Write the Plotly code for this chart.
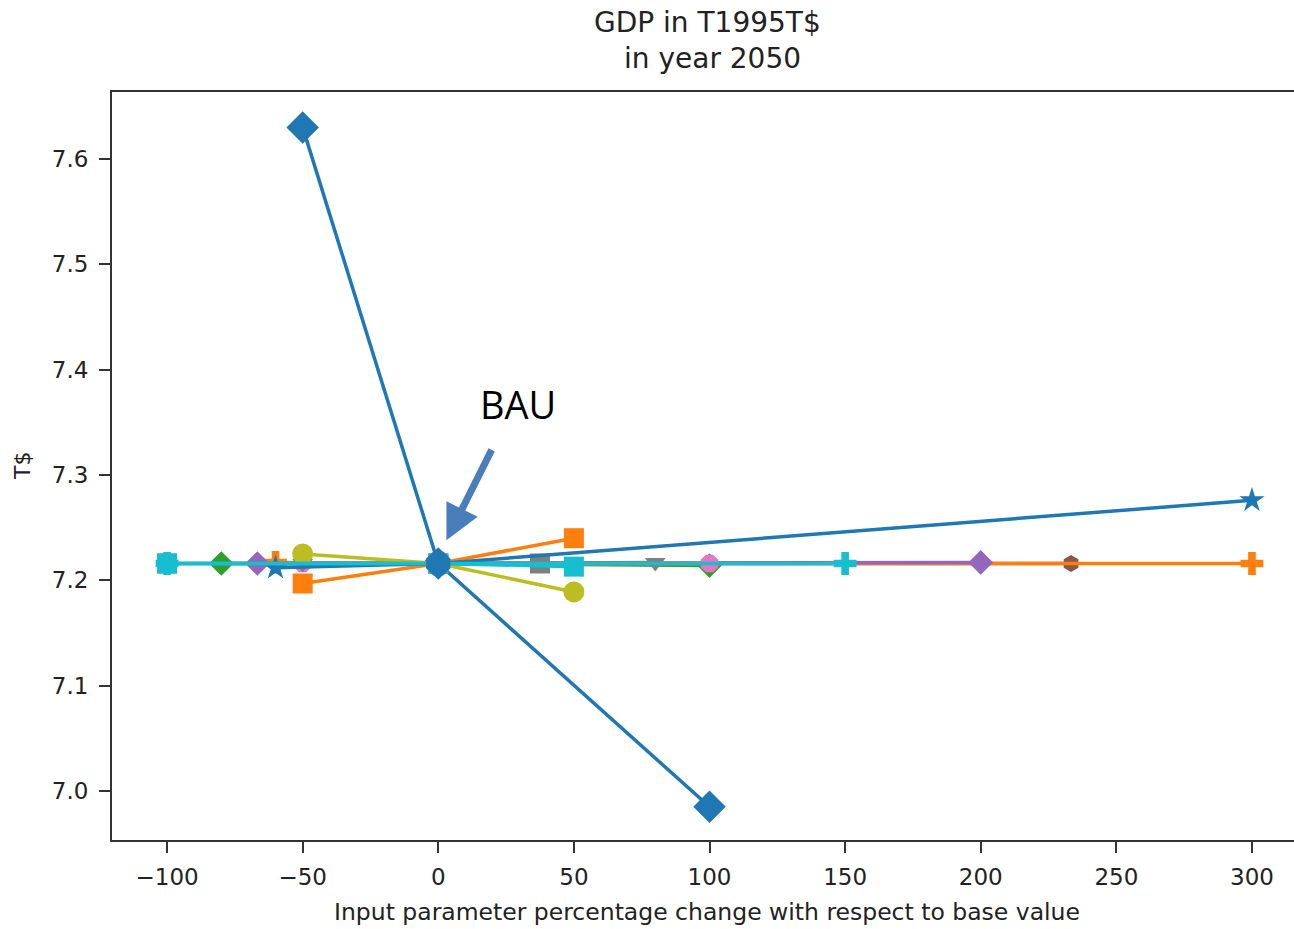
import plotly.graph_objects as go

# Sensitivity of GDP (T$) in 2050 to percentage changes of each input parameter
BAU_X = [0]
BAU_Y = [7.216]

s01_x = [-50, 0, 100]
s01_y = [7.630, 7.216, 6.985]

s02_x = [-50, 0, 50]
s02_y = [7.197, 7.216, 7.240]

s03_x = [-80, 0, 100]
s03_y = [7.216, 7.216, 7.214]

s04_x = [-50, 0, 233.3]
s04_y = [7.216, 7.216, 7.216]

s05_x = [-60, 0, 300]
s05_y = [7.217, 7.216, 7.216]

s06_x = [-66.7, 0, 200]
s06_y = [7.216, 7.216, 7.217]

s07_x = [-50, 0, 100]
s07_y = [7.216, 7.216, 7.216]

s08_x = [-100, 0, 37.5]
s08_y = [7.216, 7.216, 7.216]

s09_x = [-50, 0, 80]
s09_y = [7.216, 7.216, 7.217]

s10_x = [-50, 0, 50]
s10_y = [7.225, 7.216, 7.189]

s11_x = [-60, 0, 300]
s11_y = [7.212, 7.216, 7.276]

s12_x = [-100, 0, 50]
s12_y = [7.216, 7.216, 7.213]

s13_x = [-100, 0, 150]
s13_y = [7.216, 7.216, 7.216]

x_ticks = [-100, -50, 0, 50, 100, 150, 200, 250, 300]
y_ticks = [7.0, 7.1, 7.2, 7.3, 7.4, 7.5, 7.6]

C = ["#1f77b4", "#ff7f0e", "#2ca02c", "#d62728", "#9467bd",
     "#8c564b", "#e377c2", "#7f7f7f", "#bcbd22", "#17becf"]

# (x, y, colour, marker symbol, marker size) in drawing order
series = [
    (s01_x, s01_y, C[0], "diamond", 25),
    (s02_x, s02_y, C[1], "square", 20),
    (s03_x, s03_y, C[2], "diamond", 19),
    (s04_x, s04_y, C[5], "hexagon", 17),
    (s05_x, s05_y, C[1], "cross", 19),
    (s06_x, s06_y, C[4], "diamond", 19),
    (s07_x, s07_y, C[6], "octagon", 19),
    (s08_x, s08_y, C[7], "square", 20),
    (s09_x, s09_y, C[7], "triangle-down", 18),
    (s10_x, s10_y, C[8], "circle", 21),
    (s11_x, s11_y, C[0], "star", 19),
    (s12_x, s12_y, C[9], "square", 20),
    (s13_x, s13_y, C[9], "cross", 19),
    (BAU_X, BAU_Y, C[0], "octagon", 26),
]

fig = go.Figure()
for xs, ys, col, sym, sz in series:
    fig.add_trace(go.Scatter(
        x=xs, y=ys, mode="lines+markers",
        line=dict(color=col, width=3.5),
        marker=dict(color=col, symbol=sym, size=sz, line=dict(width=0)),
        showlegend=False, cliponaxis=False,
    ))

txt = "#222222"
tick_font = dict(family="DejaVu Sans", size=23, color=txt)

fig.update_layout(
    width=1294, height=929,
    margin=dict(l=112, r=0, t=92, b=89),
    paper_bgcolor="white", plot_bgcolor="white",
    xaxis=dict(
        range=[-120.3, 315.5], tickvals=x_ticks,
        showgrid=False, zeroline=False,
        showline=True, mirror=True, linecolor="#333", linewidth=2,
        ticks="outside", ticklen=11, tickwidth=2, tickcolor="#333",
        tickfont=tick_font, ticklabelstandoff=4,
    ),
    yaxis=dict(
        range=[6.9535, 7.6636], tickvals=y_ticks, tickformat=".1f",
        showgrid=False, zeroline=False,
        showline=True, mirror=False, linecolor="#333", linewidth=2,
        ticks="outside", ticklen=11, tickwidth=2, tickcolor="#333",
        tickfont=tick_font, ticklabelstandoff=6,
    ),
    annotations=[
        dict(text="GDP in T1995T$", xref="paper", yref="paper",
             x=(707 - 112) / 1182, y=1 + (92 - 22) / 748,
             xanchor="center", yanchor="middle", showarrow=False,
             font=dict(family="DejaVu Sans", size=28, color=txt)),
        dict(text="in year 2050", xref="paper", yref="paper",
             x=(712 - 112) / 1182, y=1 + (92 - 59) / 748,
             xanchor="center", yanchor="middle", showarrow=False,
             font=dict(family="DejaVu Sans", size=28, color=txt)),
        dict(text="Input parameter percentage change with respect to base value",
             xref="paper", yref="paper",
             x=(707 - 112) / 1182, y=-(912 - 840) / 748,
             xanchor="center", yanchor="middle", showarrow=False,
             font=dict(family="DejaVu Sans", size=23.5, color=txt)),
        dict(text="T$", xref="paper", yref="paper", textangle=-90,
             x=(22 - 112) / 1182, y=(840 - 466) / 748,
             xanchor="center", yanchor="middle", showarrow=False,
             font=dict(family="DejaVu Sans", size=22, color=txt)),
        dict(text="BAU", xref="x", yref="y", x=29.5, y=7.367, showarrow=False,
             font=dict(family="Open Sans", size=38, color="black")),
        dict(text="", xref="x", yref="y", x=3.0, y=7.238,
             showarrow=True, ax=46, ay=-92, arrowhead=2, arrowsize=1.0,
             arrowwidth=7, arrowcolor="#4a7ebb"),
    ],
)

fig.write_html("out.html")
